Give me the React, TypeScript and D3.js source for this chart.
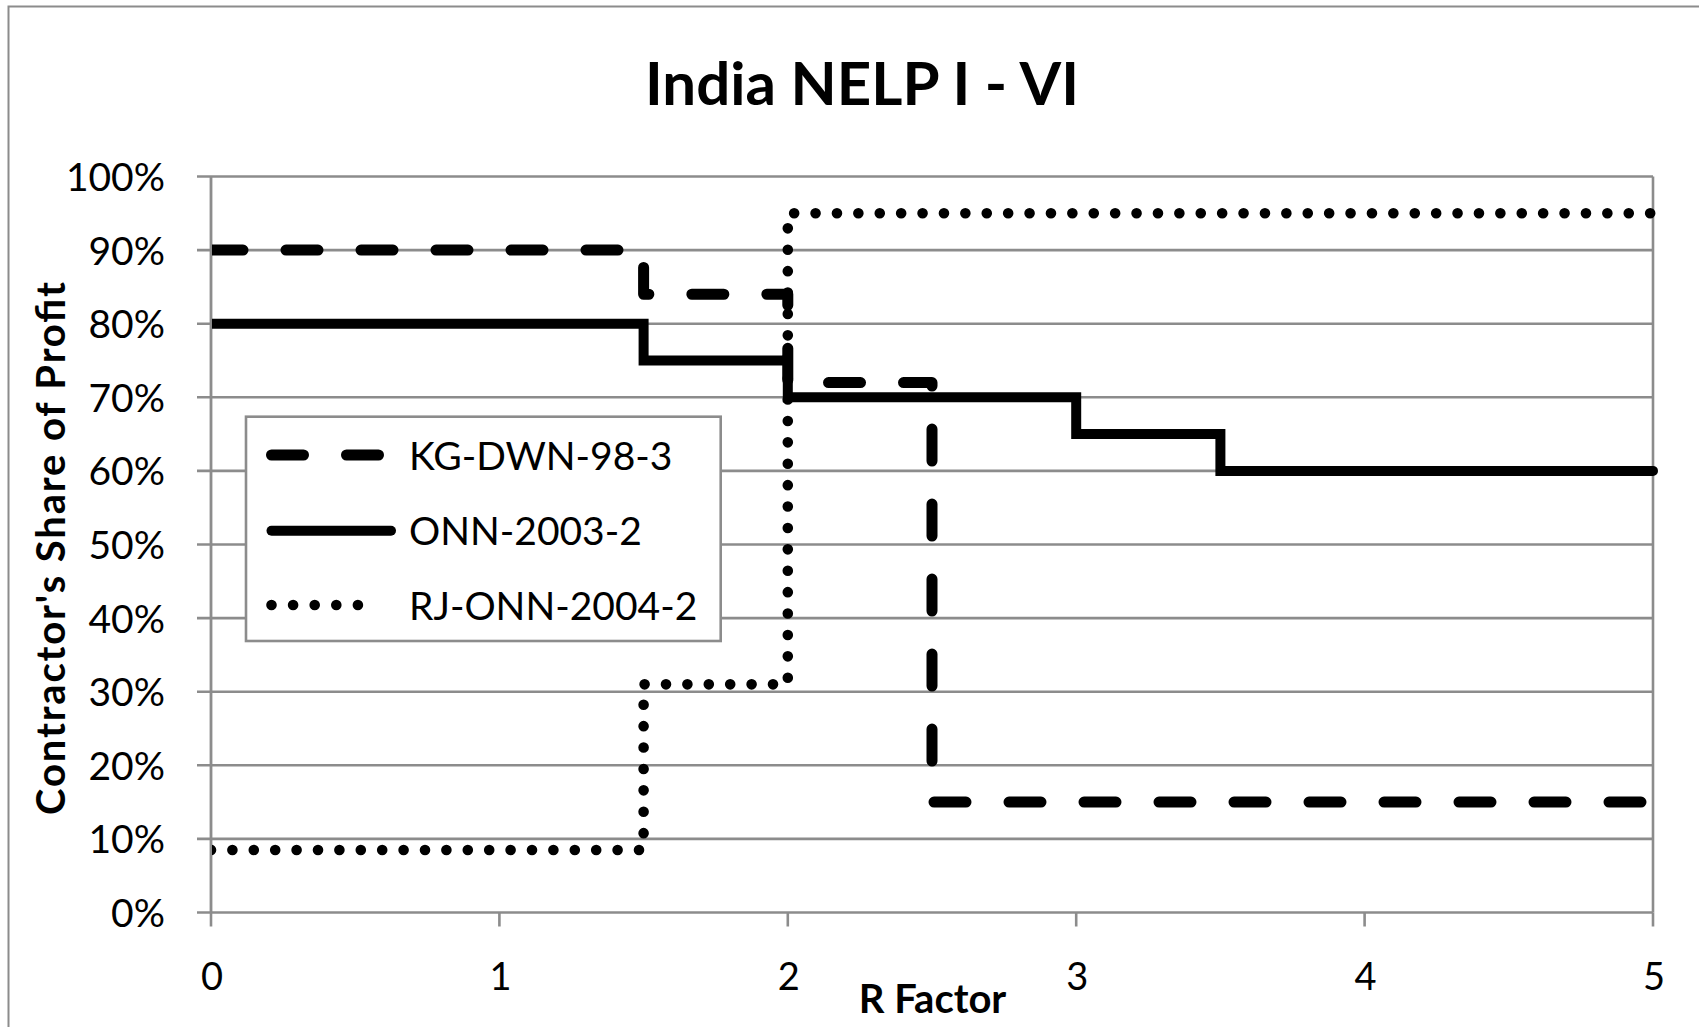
import React from "react";
import * as d3 from "d3";

const chartTitle = "India NELP I - VI";
const xAxisTitle = "R Factor";
const yAxisTitle = "Contractor's Share of Profit";
const xTicks = [0, 1, 2, 3, 4, 5];
const yTicks = [0, 10, 20, 30, 40, 50, 60, 70, 80, 90, 100];

const seriesNames = ["KG-DWN-98-3", "ONN-2003-2", "RJ-ONN-2004-2"];
const kgX = [0, 1.5, 2, 2.5, 5];
const kgY = [90, 84, 72, 15, 15];
const onnX = [0, 1.5, 2, 3, 3.5, 5];
const onnY = [80, 75, 70, 65, 60, 60];
const rjX = [0, 1.5, 2, 5];
const rjY = [8.5, 31, 95, 95];

const FONT = "Lato, 'Open Sans', sans-serif";
const GRID = "#8c8c8c";

const styles = [
  { dash: "32,43", width: 11 },
  { dash: "none", width: 10 },
  { dash: "0,21.4", width: 10.6 },
];

export default function App() {
  const W = 1699;
  const H = 1027;
  const left = 211;
  const right = 1653;
  const top = 176.5;
  const bottom = 912.5;

  const x = d3.scaleLinear().domain([0, 5]).range([left, right]);
  const y = d3.scaleLinear().domain([0, 100]).range([bottom, top]);

  const line = d3
    .line<[number, number]>()
    .x((d) => x(d[0]))
    .y((d) => y(d[1]))
    .curve(d3.curveStepAfter);

  const series = [
    kgX.map((v, i) => [v, kgY[i]] as [number, number]),
    onnX.map((v, i) => [v, onnY[i]] as [number, number]),
    rjX.map((v, i) => [v, rjY[i]] as [number, number]),
  ];

  const legendX0 = 271.5;
  const legendX1 = [378.5, 391, 379];
  const legendLineY = [455, 530.7, 605];
  const legendTextY = [470, 545, 620];

  return (
    <svg
      width={W}
      height={H}
      style={{ position: "absolute", left: 0, top: 0, background: "#fff" }}
    >
      <defs>
        <clipPath id="plotClip">
          <rect x={left + 1} y={0} width={W} height={H} />
        </clipPath>
      </defs>
      <rect x={0} y={0} width={W} height={H} fill="#fff" />
      <rect x={8.5} y={6.5} width={W + 20} height={H + 20} fill="none" stroke={GRID} strokeWidth={2} />

      {/* gridlines */}
      {yTicks.map((t) => (
        <line key={"g" + t} x1={left - 14} x2={right} y1={y(t)} y2={y(t)} stroke={GRID} strokeWidth={2.6} />
      ))}
      {/* y axis */}
      <line x1={left} x2={left} y1={top} y2={bottom} stroke={GRID} strokeWidth={2.8} />
      {/* right border */}
      <line x1={right} x2={right} y1={top} y2={bottom} stroke={GRID} strokeWidth={2.6} />
      {/* x ticks */}
      {xTicks.map((t) => (
        <line key={"xt" + t} x1={x(t)} x2={x(t)} y1={bottom} y2={bottom + 14} stroke={GRID} strokeWidth={2.6} />
      ))}

      {/* y tick labels */}
      {yTicks.map((t) => (
        <text
          key={"yl" + t}
          x={165}
          y={y(t) + 14.5}
          textAnchor="end"
          fontFamily={FONT}
          fontSize={39}
          fill="#000"
        >
          {t + "%"}
        </text>
      ))}
      {/* x tick labels */}
      {xTicks.map((t) => (
        <text
          key={"xl" + t}
          x={x(t) + 1}
          y={990}
          textAnchor="middle"
          fontFamily={FONT}
          fontSize={38}
          fill="#000"
        >
          {t}
        </text>
      ))}

      {/* series */}
      <g clipPath="url(#plotClip)">
        {series.map((s, i) => (
          <path
            key={"s" + i}
            d={line(s) || ""}
            fill="none"
            stroke="#000"
            strokeWidth={styles[i].width}
            strokeDasharray={styles[i].dash}
            strokeLinecap="round"
            strokeLinejoin={i === 1 ? "miter" : "round"}
          />
        ))}
      </g>

      {/* legend */}
      <rect x={246} y={416.7} width={474.7} height={224.3} fill="#fff" stroke={GRID} strokeWidth={2.6} />
      {seriesNames.map((n, i) => (
        <g key={"lg" + i}>
          <line
            x1={legendX0}
            x2={legendX1[i]}
            y1={legendLineY[i]}
            y2={legendLineY[i]}
            stroke="#000"
            strokeWidth={styles[i].width}
            strokeDasharray={i === 2 ? "0,21.6" : styles[i].dash}
            strokeLinecap="round"
          />
          <text x={409} y={legendTextY[i]} fontFamily={FONT} fontSize={39} fill="#000">
            {n}
          </text>
        </g>
      ))}

      {/* titles */}
      <text
        x={862}
        y={105}
        textAnchor="middle"
        fontFamily={FONT}
        fontWeight={700}
        fontSize={60}
        fill="#000"
      >
        {chartTitle}
      </text>
      <text
        x={932.5}
        y={1013}
        textAnchor="middle"
        fontFamily={FONT}
        fontWeight={700}
        fontSize={40}
        fill="#000"
      >
        {xAxisTitle}
      </text>
      <text
        transform="translate(65,548.5) rotate(-90)"
        textAnchor="middle"
        fontFamily={FONT}
        fontWeight={700}
        fontSize={40}
        fill="#000"
        textLength={533}
        lengthAdjust="spacing"
      >
        {yAxisTitle}
      </text>
    </svg>
  );
}
